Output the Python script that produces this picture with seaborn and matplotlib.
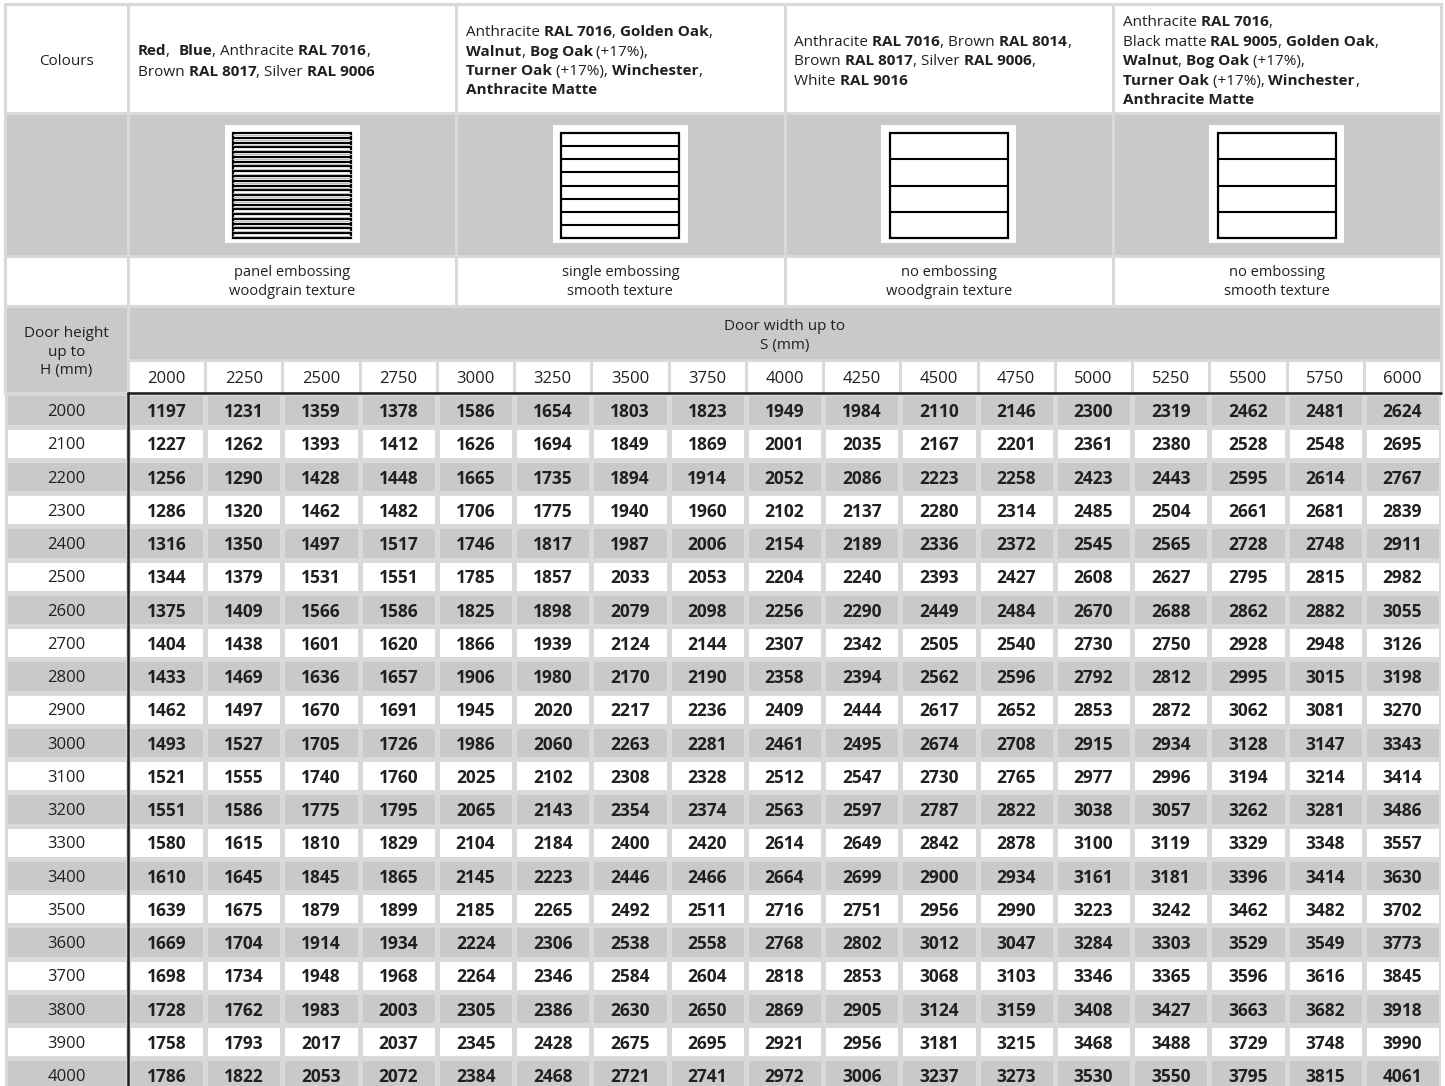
import matplotlib
matplotlib.use("Agg")
import matplotlib.pyplot as plt
import numpy as np
import pandas as pd
import seaborn as sns
from matplotlib.colors import ListedColormap
from matplotlib.patches import Rectangle

HAUTEURS = [2000, 2100, 2200, 2300, 2400, 2500, 2600, 2700, 2800, 2900, 3000,
            3100, 3200, 3300, 3400, 3500, 3600, 3700, 3800, 3900, 4000]
LARGEURS = [2000, 2250, 2500, 2750, 3000, 3250, 3500, 3750, 4000, 4250, 4500,
            4750, 5000, 5250, 5500, 5750, 6000]

PRIX = [
    [1197, 1231, 1359, 1378, 1586, 1654, 1803, 1823, 1949, 1984, 2110, 2146, 2300, 2319, 2462, 2481, 2624],
    [1227, 1262, 1393, 1412, 1626, 1694, 1849, 1869, 2001, 2035, 2167, 2201, 2361, 2380, 2528, 2548, 2695],
    [1256, 1290, 1428, 1448, 1665, 1735, 1894, 1914, 2052, 2086, 2223, 2258, 2423, 2443, 2595, 2614, 2767],
    [1286, 1320, 1462, 1482, 1706, 1775, 1940, 1960, 2102, 2137, 2280, 2314, 2485, 2504, 2661, 2681, 2839],
    [1316, 1350, 1497, 1517, 1746, 1817, 1987, 2006, 2154, 2189, 2336, 2372, 2545, 2565, 2728, 2748, 2911],
    [1344, 1379, 1531, 1551, 1785, 1857, 2033, 2053, 2204, 2240, 2393, 2427, 2608, 2627, 2795, 2815, 2982],
    [1375, 1409, 1566, 1586, 1825, 1898, 2079, 2098, 2256, 2290, 2449, 2484, 2670, 2688, 2862, 2882, 3055],
    [1404, 1438, 1601, 1620, 1866, 1939, 2124, 2144, 2307, 2342, 2505, 2540, 2730, 2750, 2928, 2948, 3126],
    [1433, 1469, 1636, 1657, 1906, 1980, 2170, 2190, 2358, 2394, 2562, 2596, 2792, 2812, 2995, 3015, 3198],
    [1462, 1497, 1670, 1691, 1945, 2020, 2217, 2236, 2409, 2444, 2617, 2652, 2853, 2872, 3062, 3081, 3270],
    [1493, 1527, 1705, 1726, 1986, 2060, 2263, 2281, 2461, 2495, 2674, 2708, 2915, 2934, 3128, 3147, 3343],
    [1521, 1555, 1740, 1760, 2025, 2102, 2308, 2328, 2512, 2547, 2730, 2765, 2977, 2996, 3194, 3214, 3414],
    [1551, 1586, 1775, 1795, 2065, 2143, 2354, 2374, 2563, 2597, 2787, 2822, 3038, 3057, 3262, 3281, 3486],
    [1580, 1615, 1810, 1829, 2104, 2184, 2400, 2420, 2614, 2649, 2842, 2878, 3100, 3119, 3329, 3348, 3557],
    [1610, 1645, 1845, 1865, 2145, 2223, 2446, 2466, 2664, 2699, 2900, 2934, 3161, 3181, 3396, 3414, 3630],
    [1639, 1675, 1879, 1899, 2185, 2265, 2492, 2511, 2716, 2751, 2956, 2990, 3223, 3242, 3462, 3482, 3702],
    [1669, 1704, 1914, 1934, 2224, 2306, 2538, 2558, 2768, 2802, 3012, 3047, 3284, 3303, 3529, 3549, 3773],
    [1698, 1734, 1948, 1968, 2264, 2346, 2584, 2604, 2818, 2853, 3068, 3103, 3346, 3365, 3596, 3616, 3845],
    [1728, 1762, 1983, 2003, 2305, 2386, 2630, 2650, 2869, 2905, 3124, 3159, 3408, 3427, 3663, 3682, 3918],
    [1758, 1793, 2017, 2037, 2345, 2428, 2675, 2695, 2921, 2956, 3181, 3215, 3468, 3488, 3729, 3748, 3990],
    [1786, 1822, 2053, 2072, 2384, 2468, 2721, 2741, 2972, 3006, 3237, 3273, 3530, 3550, 3795, 3815, 4061],
]

# texte des coloris, les parties entre ** sont en gras
COLORIS = [
    ["**Red**,  **Blue**, Anthracite **RAL 7016**,",
     "Brown **RAL 8017**, Silver **RAL 9006**"],
    ["Anthracite **RAL 7016**, **Golden Oak**,",
     "**Walnut**, **Bog Oak** (+17%),",
     "**Turner Oak** (+17%), **Winchester**,",
     "**Anthracite Matte**"],
    ["Anthracite **RAL 7016**, Brown **RAL 8014**,",
     "Brown **RAL 8017**, Silver **RAL 9006**,",
     "White **RAL 9016**"],
    ["Anthracite **RAL 7016**,",
     "Black matte **RAL 9005**, **Golden Oak**,",
     "**Walnut**, **Bog Oak** (+17%),",
     "**Turner Oak** (+17%), **Winchester**,",
     "**Anthracite Matte**"],
]
TEXTURES = ["panel embossing\nwoodgrain texture", "single embossing\nsmooth texture",
            "no embossing\nwoodgrain texture", "no embossing\nsmooth texture"]
PANNEAUX = [22, 8, 4, 4]

GRIS = "#c8c9cb"
TRAIT = "#d9d9d9"
TEXTE = "#231f20"

W, H = 1445, 1086
X0, XL, XR = 5, 128, 1441
LIGNES = [4, 113, 256, 306, 360, 393.4]
RH = 33.25
LW = 2.2

sns.set_theme(style="white")
plt.rcParams["font.family"] = ["Open Sans", "DejaVu Sans"]

fig = plt.figure(figsize=(W / 100, H / 100), dpi=100)
fig.patch.set_facecolor("white")
bg = fig.add_axes([0, 0, 1, 1])
bg.set_xlim(0, W)
bg.set_ylim(H, 0)
bg.set_axis_off()


def case(x0, y0, x1, y1, fond):
    bg.add_patch(Rectangle((x0, y0), x1 - x0, y1 - y0, facecolor=fond,
                           edgecolor=TRAIT, lw=LW, zorder=1))


def texte_riche(x, y, ligne, taille):
    renderer = fig.canvas.get_renderer()
    morceaux = ligne.split("**")
    for i, m in enumerate(morceaux):
        if not m:
            continue
        t = bg.text(x, y, m, fontsize=taille, fontweight="bold" if i % 2 else "normal",
                    ha="left", va="center_baseline", color=TEXTE, zorder=3)
        x += t.get_window_extent(renderer).width


def icone(cx, n):
    bg.add_patch(Rectangle((cx - 67.5, 125), 135, 118, facecolor="white", lw=0, zorder=2))
    x0, y0, lx, ly = cx - 59, 133, 118, 105
    bg.add_patch(Rectangle((x0, y0), lx, ly, facecolor="white", edgecolor="black",
                           lw=1.6, zorder=3))
    pas = ly / n
    for k in range(1, n):
        bg.plot([x0, x0 + lx], [y0 + k * pas] * 2, color="black",
                lw=1.5 if n < 10 else 1.6, zorder=3, solid_capstyle="butt")
    if n >= 10:
        for k in range(n):
            bg.plot([x0, x0 + lx], [y0 + (k + 0.5) * pas] * 2, color="#bdbdbd",
                    lw=0.8, zorder=3)


# colonne de gauche
case(X0, LIGNES[0], XL, LIGNES[1], "white")
case(X0, LIGNES[1], XL, LIGNES[2], GRIS)
case(X0, LIGNES[2], XL, LIGNES[3], "white")
case(X0, LIGNES[3], XL, LIGNES[5], GRIS)
bg.text((X0 + XL) / 2, 59.5, "Colours", fontsize=11, ha="center", va="center_baseline",
        color=TEXTE)
bg.text((X0 + XL) / 2, 352, "Door height\nup to\nH (mm)", fontsize=11, ha="center",
        va="center", color=TEXTE, linespacing=1.33)

# groupes de coloris
gw = (XR - XL) / 4
for g in range(4):
    gx0 = XL + g * gw
    case(gx0, LIGNES[0], gx0 + gw, LIGNES[1], "white")
    case(gx0, LIGNES[1], gx0 + gw, LIGNES[2], GRIS)
    case(gx0, LIGNES[2], gx0 + gw, LIGNES[3], "white")
    lignes = COLORIS[g]
    pas_ligne = 21 if len(lignes) == 2 else 19.4
    y = 59.8 - (len(lignes) - 1) * pas_ligne / 2
    for ligne in lignes:
        texte_riche(gx0 + 10, y, ligne, 11)
        y += pas_ligne
    icone(gx0 + gw / 2, PANNEAUX[g])
    bg.text(gx0 + gw / 2, 282, TEXTURES[g], fontsize=10.5, ha="center", va="center",
            color=TEXTE, linespacing=1.3, zorder=3)

# en-tete largeur
case(XL, LIGNES[3], XR, LIGNES[4], GRIS)
bg.text((XL + XR) / 2, 336, "Door width up to\nS (mm)", fontsize=11, ha="center",
        va="center", color=TEXTE, linespacing=1.3)
cw = (XR - XL) / len(LARGEURS)
for j in range(len(LARGEURS)):
    case(XL + j * cw, LIGNES[4], XL + (j + 1) * cw, LIGNES[5], "white")

# grilles de prix
n = len(HAUTEURS)
bas = (H - (LIGNES[5] + n * RH)) / H
haut = n * RH / H
bandes = pd.DataFrame([[i % 2 == 0] * len(LARGEURS) for i in range(n)]).astype(int)
prix = pd.DataFrame(PRIX, index=HAUTEURS, columns=LARGEURS)
cmap = ListedColormap(["white", GRIS])

ax_lab = fig.add_axes([X0 / W, bas, (XL - X0) / W, haut])
sns.heatmap(bandes.iloc[:, :1], annot=np.array(HAUTEURS).reshape(-1, 1), fmt="d",
            cmap=cmap, vmin=0, vmax=1, cbar=False, linewidths=LW, linecolor=TRAIT,
            xticklabels=False, yticklabels=False, ax=ax_lab,
            annot_kws={"fontsize": 12, "color": TEXTE, "va": "center_baseline"})

ax = fig.add_axes([XL / W, bas, (XR - XL) / W, haut])
sns.heatmap(bandes, annot=prix.values, fmt="d", cmap=cmap, vmin=0, vmax=1, cbar=False,
            linewidths=LW, linecolor=TRAIT, xticklabels=False, yticklabels=False, ax=ax,
            annot_kws={"fontsize": 12.5, "fontweight": "bold", "color": TEXTE,
                       "va": "center_baseline"})
for j, w in enumerate(LARGEURS):
    ax.text(j + 0.5, -0.5, str(w), ha="center", va="center_baseline", fontsize=12,
            color=TEXTE, clip_on=False)
ax.axhline(0, color="#1e1e1e", lw=1.8, clip_on=False)
ax.axvline(0, color="#1e1e1e", lw=1.8, clip_on=False)

fig.savefig("out.png", dpi=100, facecolor="white")
